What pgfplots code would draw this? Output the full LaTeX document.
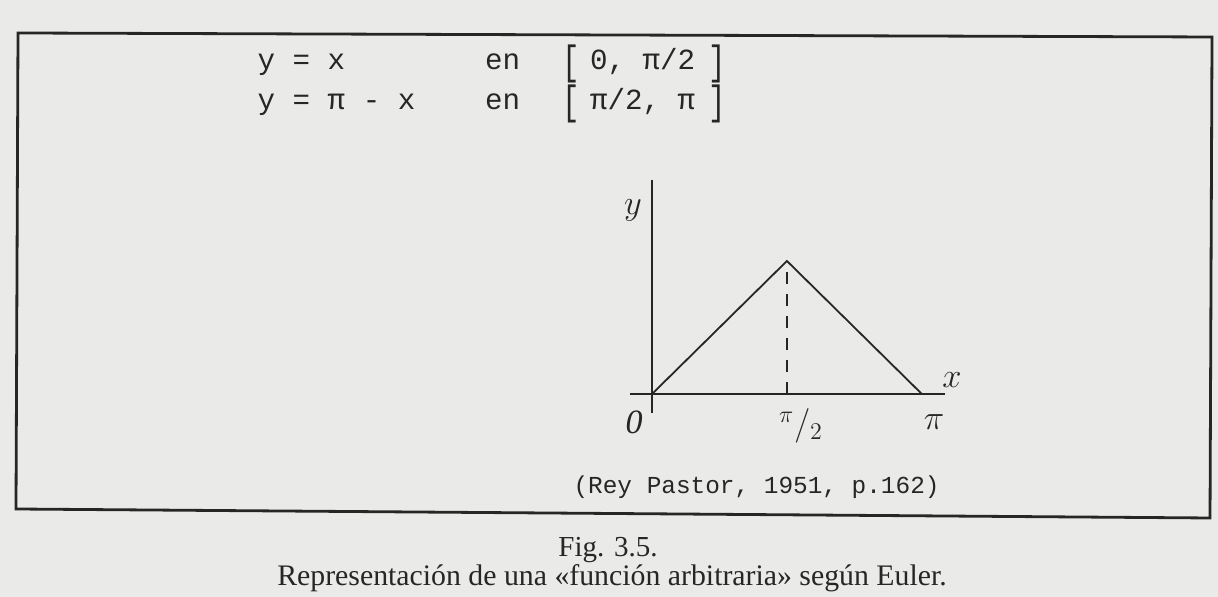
\documentclass[border=0pt]{standalone}
\usepackage{graphicx}
\usepackage{pgfplots}
\pgfplotsset{compat=1.18}
\usepackage{fontspec}
\setmainfont{Liberation Serif}
\newfontfamily\mono{Liberation Mono}
\definecolor{paper}{RGB}{234,234,232}
\definecolor{ink}{RGB}{38,38,38}

\begin{document}
\begin{tikzpicture}[x=0.5pt,y=0.5pt]
% scanned page and frame (pixels of the reference, y counted from the bottom)
\fill[paper] (0,0) rectangle (1218,597);
\draw[ink, line width=1.4pt] (18,564) -- (1212,560) -- (1210,79) -- (16,88) -- cycle;

% the two formulas, typewriter
\tikzset{tw/.style={anchor=base west, inner sep=0pt, text=ink, font=\mono\fontsize{14.6}{16}\selectfont},
         br/.style={anchor=center, inner sep=0pt, text=ink, font=\mono\fontsize{14.6}{16}\selectfont},
         hw/.style={text=ink, inner sep=1pt, font=\fontsize{17}{18}\selectfont}}
\node[tw] at (257.25,527) {y = x};
\node[tw] at (484.75,527) {en};
\node[tw] at (589.75,527) {0,};
\node[tw] at (642.25,527) {π/2};
\node[br] at (571,533) {\scalebox{1}[1.4]{[}};
\node[br] at (717,533) {\scalebox{1}[1.4]{]}};

\node[tw] at (257.25,487) {y = π - x};
\node[tw] at (484.75,487) {en};
\node[tw] at (589.75,487) {π/2,};
\node[tw] at (677.25,487) {π};
\node[br] at (571,493) {\scalebox{1}[1.4]{[}};
\node[br] at (717,493) {\scalebox{1}[1.4]{]}};

% the graph: lower left corner of the axis box at pixel (630,413)
\coordinate (SW) at (630,184);
\begin{axis}[
    at={(SW)}, anchor=south west,
    scale only axis,
    width=157.5pt, height=116.5pt,
    xmin=-0.256, xmax=3.411,
    ymin=-0.224, ymax=2.527,
    axis lines=center,
    axis line style={ink, line width=0.9pt, -},
    ticks=none,
    clip=false,
    ]
    \addplot[ink, line width=0.9pt] coordinates {(0,0) (1.5708,1.5708) (3.1416,0)};
    \addplot[ink, line width=0.9pt, dash pattern=on 6pt off 5pt] coordinates {(1.5708,0) (1.5708,1.5708)};
\end{axis}

\node[hw] at (633,387) {$y$};
\node[hw] at (952,217) {$x$};
\node[hw] at (934,175) {$\pi$};
\node[hw] at (801,171) {${}^{\pi}/_{2}$};
\node[hw] at (634,175) {\textit{0}};

% source
\node[anchor=base east, inner sep=0pt, text=ink, font=\mono\fontsize{12.2}{14}\selectfont] at (940,103) {(Rey Pastor, 1951, p.162)};

% caption
\node[anchor=base, inner sep=0pt, text=ink, font=\fontsize{14.5}{16}\selectfont] at (608,40) {Fig. 3.5.};
\node[anchor=base, inner sep=0pt, text=ink, font=\fontsize{14.9}{16}\selectfont] at (612,11) {Representación de una «función arbitraria» según Euler.};
\end{tikzpicture}
\end{document}
